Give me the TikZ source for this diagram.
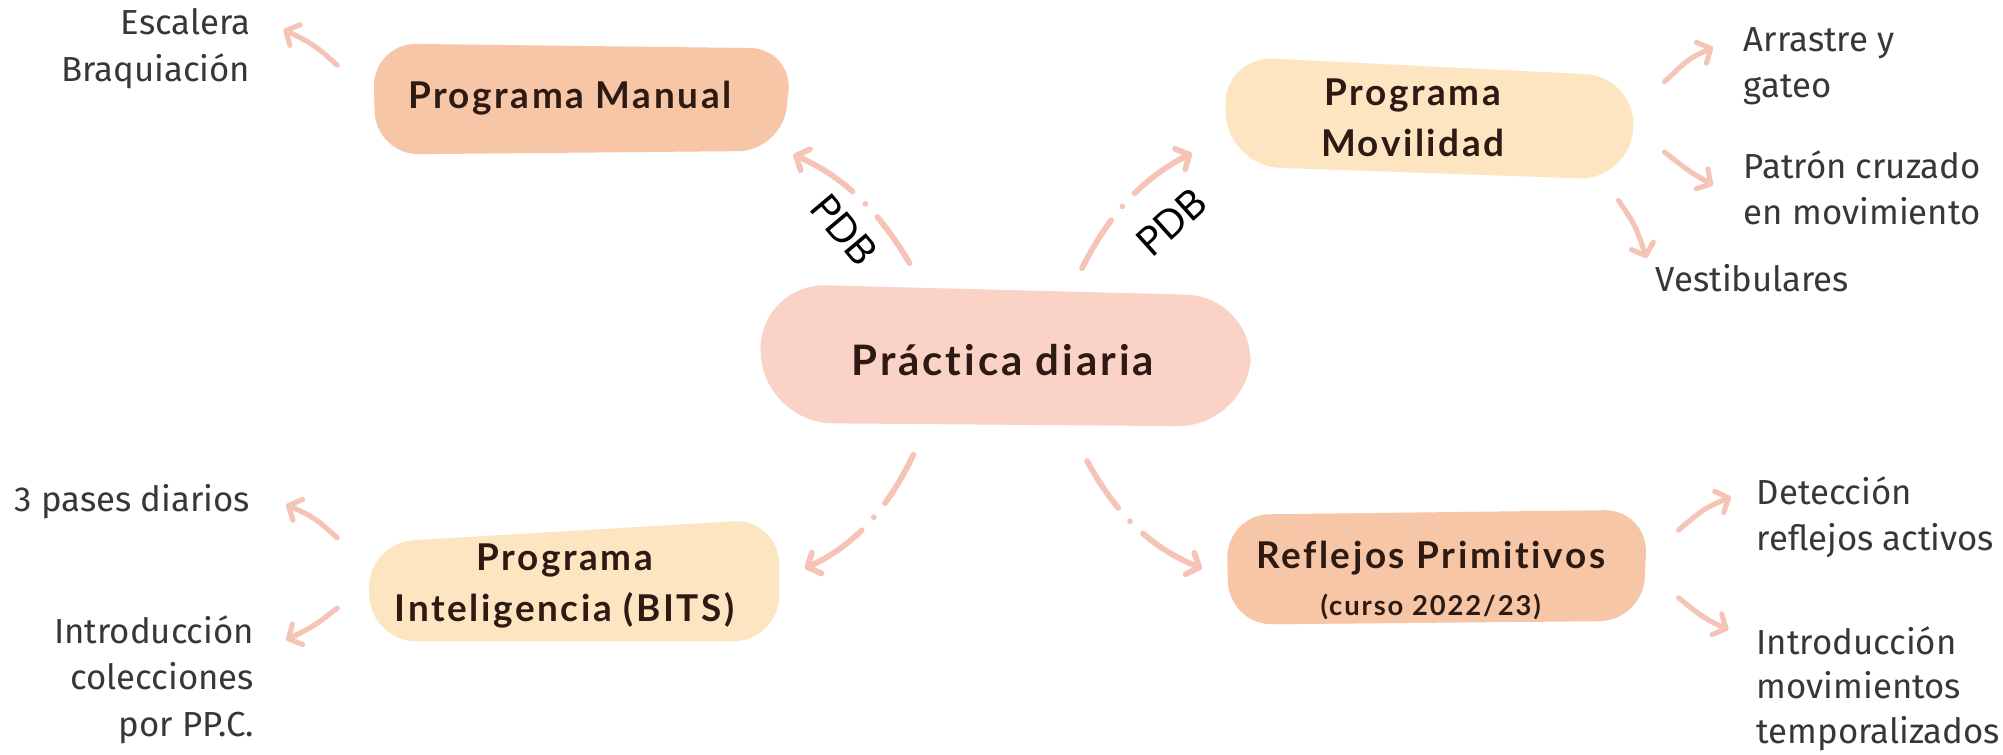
\documentclass[tikz,border=0pt]{standalone}
\usepackage{fontspec}
\setmainfont{Fira Sans}
\newfontfamily\headfont{Lato}[LetterSpace=7,Ligatures={NoCommon}]
\newfontfamily\pdbfont{Poppins}
\usetikzlibrary{arrows.meta,calc}
\definecolor{peach}{RGB}{246,198,166}
\definecolor{pinkc}{RGB}{250,210,198}
\definecolor{cream}{RGB}{252,229,192}
\definecolor{arrowc}{RGB}{245,196,182}
\definecolor{headc}{RGB}{45,26,18}
\definecolor{leafc}{RGB}{58,54,52}
\tikzset{
  head/.style={text=headc, align=center, inner sep=0pt,
    font=\headfont\bfseries\fontsize{29}{40}\selectfont},
  leafr/.style={text=leafc, align=right, anchor=east, inner sep=0pt,
    font=\fontsize{27.3}{36.5}\selectfont},
  leafl/.style={text=leafc, align=left, anchor=west, inner sep=0pt,
    font=\fontsize{27.3}{36.5}\selectfont},
  pdb/.style={text=black, inner sep=0pt, font=\pdbfont\fontsize{32}{36}\selectfont},
  leafarrow/.style={draw=arrowc, line width=4bp, line cap=round,
    -{Straight Barb[length=8bp,width=18bp,line width=4bp,round]}},
  mainarrow/.style={draw=arrowc, line width=4.5bp, line cap=round,
    dash pattern=on 44bp off 14bp on 0bp off 14bp on 400bp,
    -{Straight Barb[length=8bp,width=18bp,line width=4.5bp,round]}},
}
\begin{document}
\begin{tikzpicture}[x=1bp,y=-1bp]
\useasboundingbox[fill=white] (0,0) rectangle (1568,591);

% blobs
\fill[peach, rounded corners=34bp] (292,34) -- (621,38) -- (612,118) -- (294,121) -- cycle;
\fill[pinkc, rounded corners=54bp] (593,222) -- (982,232) -- (976,334) -- (598,331) -- cycle;
\fill[cream, rounded corners=40bp] (957,44) -- (1281,60) -- (1276,141) -- (962,130) -- cycle;
\fill[cream, rounded corners=36bp] (288,425) -- (610,406) -- (610,502) -- (290,502) -- cycle;
\fill[peach, rounded corners=34bp] (960,403) -- (1290,399) -- (1286,486) -- (962,489) -- cycle;

% heading nodes
\node[head] (manual) at (446,77) {Programa Manual};
\node[head, font=\headfont\bfseries\fontsize{33}{40}\selectfont] (center) at (785,282) {Práctica diaria};
\node[head] (movil) at (1106,92) {Programa\\Movilidad};
\node[head] (bits) at (442,459) {Programa\\Inteligencia (BITS)};
\node[head] (refl) at (1120,437) {Reflejos Primitivos};
\node[head, font=\headfont\bfseries\fontsize{21.5}{24}\selectfont] (curso) at (1120,475) {(curso 2022/23)};

% leaf texts
\node[leafr] (esc) at (196,38) {Escalera\\Braquiación};
\node[leafr] (pases) at (196,393) {3 pases diarios};
\node[leafr] (introA) at (199,532) {Introducción\\colecciones\\por PP.C.};
\node[leafl] (arr) at (1365,52) {Arrastre y\\gateo};
\node[leafl] (pat) at (1365,147) {Patrón cruzado\\en movimiento};
\node[leafl] (ves) at (1296,218) {Vestibulares};
\node[leafl] (det) at (1375,405) {Detección\\reflejos activos};
\node[leafl, font=\fontsize{27.3}{35}\selectfont] (introB) at (1375,539) {Introducción\\movimientos\\temporalizados};

% PDB labels
\node[pdb, rotate=-50] (pdbL) at (661,180) {PDB};
\node[pdb, rotate=42] (pdbR) at (917,174) {PDB};

% connector end points
\coordinate (c1s) at (712,206); \coordinate (c1e) at (621,121);
\coordinate (c2s) at (847,210); \coordinate (c2e) at (933,120);
\coordinate (c3s) at (715,356); \coordinate (c3e) at (630,445);
\coordinate (c4s) at (851,361); \coordinate (c4e) at (941,445);

\draw[mainarrow] (c1s) .. controls (689,167) and (662,139) .. (c1e);
\draw[mainarrow] (c2s) .. controls (867,170) and (893,140) .. (c2e);
\draw[mainarrow] (c3s) .. controls (696,396) and (671,426) .. (c3e);
\draw[mainarrow] (c4s) .. controls (873,401) and (899,428) .. (c4e);

% leaf arrows
\coordinate (l1s) at (264,51);   \coordinate (l1e) at (222,23);
\coordinate (l2s) at (264,421);  \coordinate (l2e) at (224,395);
\coordinate (l3s) at (264,476);  \coordinate (l3e) at (224,501);
\coordinate (l4s) at (1303,64);  \coordinate (l4e) at (1341,37);
\coordinate (l5s) at (1303,119); \coordinate (l5e) at (1341,145);
\coordinate (l6s) at (1267,157); \coordinate (l6e) at (1289,202);
\coordinate (l7s) at (1314,415); \coordinate (l7e) at (1355,389);
\coordinate (l8s) at (1314,468); \coordinate (l8e) at (1353,493);

\draw[leafarrow] (l1s) .. controls (246,35) .. (l1e);
\draw[leafarrow] (l2s) .. controls (246,405) .. (l2e);
\draw[leafarrow] (l3s) .. controls (246,490) .. (l3e);
\draw[leafarrow] (l4s) .. controls (1322,46) .. (l4e);
\draw[leafarrow] (l5s) .. controls (1322,134) .. (l5e);
\draw[leafarrow] (l6s) .. controls (1280,176) .. (l6e);
\draw[leafarrow] (l7s) .. controls (1334,398) .. (l7e);
\draw[leafarrow] (l8s) .. controls (1334,484) .. (l8e);
\end{tikzpicture}
\end{document}
